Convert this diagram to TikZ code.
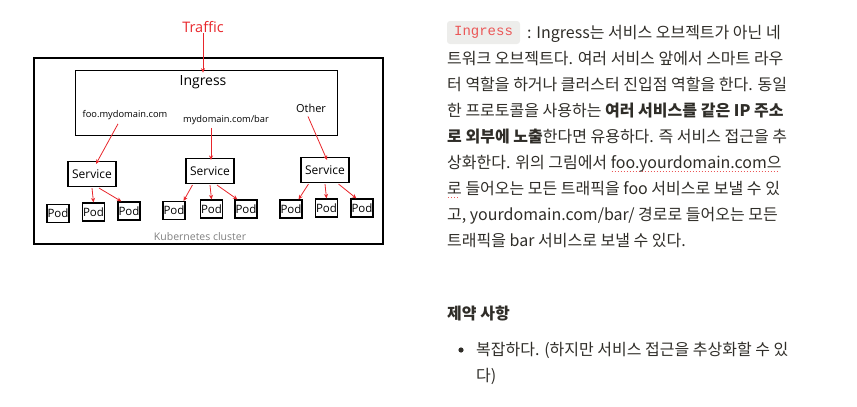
\documentclass[tikz,border=0pt]{standalone}
\usepackage{fontspec}
\setmainfont{Noto Sans CJK KR}
\newfontfamily\handfont{Open Sans}
\newfontfamily\codefont{Liberation Mono}
\usetikzlibrary{calc,arrows.meta}
\definecolor{txt}{HTML}{2F2D28}
\definecolor{redone}{HTML}{E8262B}
\definecolor{codered}{HTML}{EB5757}
\definecolor{codebg}{HTML}{EDEDEB}
\newcommand\dotul[1]{\setbox0\hbox{#1}\rlap{\raisebox{-4pt}{\color{codered}\leaders\hbox to 3pt{\hss\vrule width 1.4pt height 1.2pt\hss}\hskip\wd0}}\box0\relax}
\begin{document}
\begin{tikzpicture}[x=1pt,y=-1pt,
  hand/.style={font=\handfont\fontsize{#1}{#1}\selectfont, inner sep=0},
  box/.style={draw, line width=0.9pt},
  svc/.style={box, line width=1.1pt, minimum width=48pt, minimum height=25pt, inner sep=0, font=\handfont\fontsize{12}{12}\selectfont},
  pod/.style={box, line width=1.1pt, minimum width=22pt, minimum height=18pt, inner sep=0, font=\handfont\fontsize{11.5}{11.5}\selectfont},
  arr/.style={redone, line width=0.8pt, -{Stealth[length=4.5pt,width=4pt]}},
  body/.style={anchor=base west, inner sep=0, text=txt, font=\fontsize{16}{16}\selectfont},
  bodyb/.style={body, font=\fontsize{16}{16}\selectfont\bfseries}]
\useasboundingbox (0,0) rectangle (857,407);

% ---------------- diagram ----------------
\node[box, line width=1.2pt, minimum width=349pt, minimum height=186pt] (cluster) at (208.5,151) {};
\node[box, line width=0.7pt, minimum width=262pt, minimum height=65pt] (ingressbox) at (206,102.5) {};

\node[hand=14.5, text=redone] (traffic) at (203,27) {Traffic};
\node[hand=14] (ingress) at (203,82) {Ingress};
\node[hand=9.3] (foo) at (125,115) {foo.mydomain.com};
\node[hand=9.3] (bar) at (226,120) {mydomain.com/bar};
\node[hand=11] (other) at (311,108) {Other};
\node[hand=10.5, text=gray] (k8s) at (200,237) {Kubernetes cluster};

\node[svc] (s1) at (92,174) {Service};
\node[svc] (s2) at (210,171) {Service};
\node[svc] (s3) at (325,170) {Service};

\node[pod] (p11) at (58,213.5) {Pod};
\node[pod] (p12) at (93.5,212) {Pod};
\node[pod] (p13) at (129,211) {Pod};
\node[pod] (p21) at (174,210.5) {Pod};
\node[pod] (p22) at (211.5,209) {Pod};
\node[pod] (p23) at (246,209) {Pod};
\node[pod] (p31) at (291,209) {Pod};
\node[pod] (p32) at (326.5,208) {Pod};
\node[pod] (p33) at (362,208) {Pod};

\draw[arr] (traffic.south) -- ($(traffic.south |- ingressbox.north)+(0,3)$);
\draw[arr] ($(foo.south)+(-7,4)$) -- ($(s1.north)+(4,3)$);
\draw[arr] ($(bar.south)+(-15,3)$) -- ($(s2.north)+(1,2)$);
\draw[arr] ($(other.south)+(-3,4)$) -- ($(s3.north)+(2,3)$);

\draw[arr] ($(s1.south)+(0,1)$) -- (p12.north);
\draw[arr] ($(s1.south)+(7,1)$) -- ($(p13.north west)+(4,0)$);
\draw[arr] ($(s2.south west)+(7,1)$) -- ($(p21.north east)+(-2,0)$);
\draw[arr] ($(s2.south)+(0,1)$) -- (p22.north);
\draw[arr] ($(s2.south)+(7,1)$) -- ($(p23.north west)+(3,0)$);
\draw[arr] ($(s3.south west)+(8,1)$) -- ($(p31.north east)+(-4,0)$);
\draw[arr] ($(s3.south)+(0,1)$) -- (p32.north);
\draw[arr] ($(s3.south east)+(-11,1)$) -- ($(p33.north west)+(6,0)$);

% ---------------- text ----------------
\node[fill=codebg, rounded corners=3pt, minimum width=73pt, minimum height=23pt, inner sep=0, text=codered, font=\codefont\fontsize{14}{14}\selectfont] (code) at (483.5,32.5) {Ingress};
\node[body] (l1) at (527,38) {: Ingress는 서비스 오브젝트가 아닌 네};
\node[body] (l2) at (447,64) {트워크 오브젝트다. 여러 서비스 앞에서 스마트 라우};
\node[body] (l3) at (447,90) {터 역할을 하거나 클러스터 진입점 역할을 한다. 동일};
\node[body] (l4) at (447,116) {한 프로토콜을 사용하는 \textbf{여러 서비스를 같은 IP 주소}};
\node[body] (l5) at (447,142) {\textbf{로 외부에 노출}한다면 유용하다. 즉 서비스 접근을 추};
\node[body] (l6) at (447,168) {상화한다. 위의 그림에서 \dotul{foo.yourdomain.com으}};
\node[body] (l7) at (447,194) {\dotul{로} 들어오는 모든 트래픽을 foo 서비스로 보낼 수 있};
\node[body] (l8) at (447,220) {고, yourdomain.com/bar/ 경로로 들어오는 모든};
\node[body] (l9) at (447,246) {트래픽을 bar 서비스로 보낼 수 있다.};

\node[bodyb] (head) at (447,319) {제약 사항};
\fill[txt] (461,350) circle (2.6pt);
\node[body] (b1) at (476,355) {복잡하다. (하지만 서비스 접근을 추상화할 수 있};
\node[body] (b2) at (476,381) {다)};
\end{tikzpicture}
\end{document}
